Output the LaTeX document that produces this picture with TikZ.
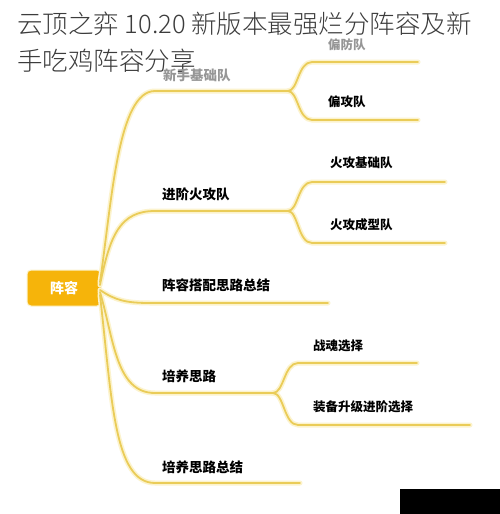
\documentclass[tikz,border=0pt]{standalone}
\usepackage{fontspec}
\newfontfamily\cjk{Noto Sans CJK SC}
\newfontfamily\cjklight{Noto Sans CJK SC Light}
\definecolor{linecol}{RGB}{234,204,88}
\definecolor{glowcol}{RGB}{252,243,205}
\definecolor{rootcol}{RGB}{246,180,10}
\definecolor{titlecol}{RGB}{60,60,60}
\definecolor{fadecol}{RGB}{150,150,150}
\tikzset{
  branch/.style={draw=linecol, line width=1.8pt, line cap=round},
  glow/.style={draw=glowcol, line width=5pt, line cap=round},
  mainlabel/.style={anchor=west, inner sep=0pt, font=\cjk\bfseries\fontsize{13.5}{15}\selectfont, text=black},
  sublabel/.style={anchor=west, inner sep=0pt, font=\cjk\bfseries\fontsize{12.5}{14}\selectfont, text=black},
  titlelabel/.style={anchor=west, inner sep=0pt, font=\cjklight\fontsize{25.5}{28}\selectfont, text=titlecol},
  rootbox/.style={fill=rootcol, draw=glowcol, line width=1pt, rounded corners=4pt, minimum width=74pt, minimum height=36pt, text=white, font=\cjk\bfseries\fontsize{14}{16}\selectfont}
}
\begin{document}
\begin{tikzpicture}[x=1pt,y=-1pt]
\useasboundingbox (0,0) rectangle (500,514);
\fill[white] (0,0) rectangle (500,514);

% root
\node[rootbox] (root) at (64,288) {阵容};

% coordinates
\coordinate (r1) at (100,282);
\coordinate (r2) at (100,285);
\coordinate (r3) at (100,290);
\coordinate (r4) at (100,292);
\coordinate (r5) at (100,295);
\coordinate (h1) at (155,91);
\coordinate (h2) at (155,211);
\coordinate (h3) at (150,303);
\coordinate (h4) at (155,393);
\coordinate (h5) at (155,483);
\coordinate (j1) at (288,91);
\coordinate (j2) at (288,211);
\coordinate (e3) at (328,303);
\coordinate (j4) at (273,393);
\coordinate (e5) at (300,483);
\coordinate (a11) at (312,62);  \coordinate (e11) at (418,62);
\coordinate (a12) at (312,120); \coordinate (e12) at (418,120);
\coordinate (a21) at (312,182); \coordinate (e21) at (445,182);
\coordinate (a22) at (312,243); \coordinate (e22) at (445,243);
\coordinate (a41) at (298,363); \coordinate (e41) at (417,363);
\coordinate (a42) at (298,425); \coordinate (e42) at (470,425);

\foreach \s in {glow,branch}{
  \path[\s] (r1) .. controls (112,200) and (118,91) .. (h1) -- (j1);
  \path[\s] (r2) .. controls (110,235) and (120,211) .. (h2) -- (j2);
  \path[\s] (r3) .. controls (115,300) and (125,303) .. (h3) -- (e3);
  \path[\s] (r4) .. controls (114,340) and (116,393) .. (h4) -- (j4);
  \path[\s] (r5) .. controls (112,400) and (114,483) .. (h5) -- (e5);
  \path[\s] (j1) .. controls (298,91) and (298,62) .. (a11) -- (e11);
  \path[\s] (j1) .. controls (298,91) and (298,120) .. (a12) -- (e12);
  \path[\s] (j2) .. controls (298,211) and (298,182) .. (a21) -- (e21);
  \path[\s] (j2) .. controls (298,211) and (298,243) .. (a22) -- (e22);
  \path[\s] (j4) .. controls (284,393) and (284,363) .. (a41) -- (e41);
  \path[\s] (j4) .. controls (284,393) and (284,425) .. (a42) -- (e42);
}

% title
\node[titlelabel] (t1) at (17,24) {云顶之弈 10.20 新版本最强烂分阵容及新};
\node[titlelabel] (t2) at (17,61) {手吃鸡阵容分享};

% labels
\node[mainlabel, text=fadecol] (l1) at (163,75) {新手基础队};
\node[mainlabel] (l2) at (162,194) {进阶火攻队};
\node[mainlabel] (l3) at (162,285) {阵容搭配思路总结};
\node[mainlabel] (l4) at (162,376) {培养思路};
\node[mainlabel] (l5) at (162,467) {培养思路总结};
\node[sublabel, text=fadecol] (l11) at (328,45) {偏防队};
\node[sublabel] (l12) at (328,102) {偏攻队};
\node[sublabel] (l21) at (330,163) {火攻基础队};
\node[sublabel] (l22) at (330,225) {火攻成型队};
\node[sublabel] (l41) at (313,346) {战魂选择};
\node[sublabel] (l42) at (313,407) {装备升级进阶选择};

% black box bottom right
\fill[black] (400,489) rectangle (500,514);
\end{tikzpicture}
\end{document}
